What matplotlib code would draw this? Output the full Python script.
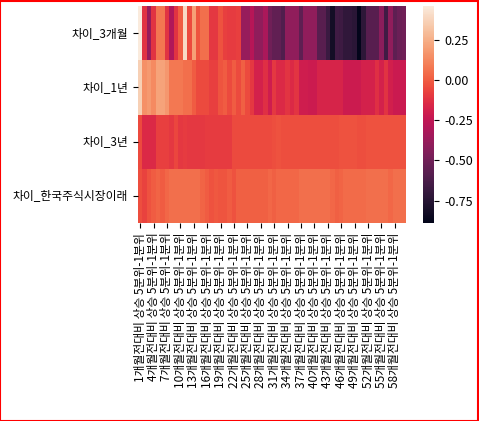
import pandas as pd
import seaborn as sns
import matplotlib.pyplot as plt
from matplotlib.patches import Rectangle

months = list(range(1, 61))
col_names = [f"{m}개월전대비 상승 5분위-1분위" for m in months]
row_names = ["차이_3개월", "차이_1년", "차이_3년", "차이_한국주식시장이래"]
cbar_ticks = [-0.75, -0.50, -0.25, 0.00, 0.25]

diff_3m = [0.46, -0.12, -0.38, -0.12, 0.07, 0.07, -0.12, -0.30, -0.12, 0.00,
           0.40, -0.05, 0.20, -0.02, 0.05, 0.05, -0.10, -0.10, -0.03, -0.08,
           -0.09, -0.09, -0.08, -0.38, -0.38, -0.28, -0.40, -0.40, -0.32, -0.50,
           -0.55, -0.55, -0.60, -0.40, -0.40, -0.40, -0.56, -0.40, -0.40, -0.40,
           -0.58, -0.58, -0.68, -0.82, -0.66, -0.67, -0.72, -0.72, -0.74, -0.89,
           -0.73, -0.58, -0.58, -0.58, -0.42, -0.66, -0.40, -0.56, -0.52, -0.50]
diff_1y = [0.36, 0.15, 0.18, 0.13, 0.21, 0.21, 0.17, 0.08, 0.08, 0.08,
           0.05, 0.05, 0.00, -0.05, -0.05, -0.05, -0.08, -0.08, -0.02, 0.00,
           -0.05, 0.00, -0.05, 0.01, -0.05, -0.10, -0.18, -0.18, -0.13, -0.20,
           -0.10, -0.15, -0.15, -0.11, -0.15, -0.11, -0.20, -0.20, -0.21, -0.21,
           -0.17, -0.17, -0.17, -0.17, -0.17, -0.17, -0.21, -0.21, -0.21, -0.21,
           -0.18, -0.18, -0.18, -0.13, -0.18, -0.12, -0.19, -0.22, -0.22, -0.22]
diff_3y = [-0.05, -0.15, -0.15, -0.15, -0.08, -0.08, -0.08, -0.10, -0.06, -0.10,
           -0.09, -0.10, -0.10, -0.10, -0.10, -0.09, -0.09, -0.09, -0.09, -0.09,
           -0.09, -0.05, -0.05, -0.05, -0.05, -0.05, -0.05, -0.05, -0.05, -0.05,
           -0.04, -0.03, -0.04, -0.04, -0.04, -0.04, -0.04, -0.04, -0.04, -0.04,
           -0.04, -0.04, -0.04, -0.04, -0.04, -0.03, -0.03, -0.03, -0.03, -0.04,
           -0.04, -0.03, -0.03, -0.03, -0.03, -0.03, -0.03, -0.03, -0.03, -0.03]
diff_all = [-0.04, -0.07, -0.03, 0.00, 0.02, 0.00, 0.03, 0.05, 0.05, 0.05,
            0.05, 0.05, 0.05, 0.05, 0.02, 0.00, -0.03, -0.01, -0.02, -0.02,
            0.00, -0.03, 0.01, 0.01, 0.01, 0.01, 0.01, 0.01, 0.01, 0.03,
            0.01, 0.03, 0.03, 0.03, 0.03, 0.03, 0.05, 0.05, 0.05, 0.05,
            0.05, 0.05, 0.05, 0.03, 0.01, 0.02, 0.04, 0.04, 0.04, 0.04,
            0.04, 0.05, 0.05, 0.05, 0.05, 0.05, 0.03, 0.05, 0.05, 0.05]

plt.rcParams["font.family"] = ["Noto Sans CJK KR", "DejaVu Sans"]
plt.rcParams["axes.unicode_minus"] = False

df = pd.DataFrame([diff_3m, diff_1y, diff_3y, diff_all], index=row_names, columns=col_names)

fig = plt.figure(figsize=(4.79, 4.21), dpi=100)
ax = fig.add_axes([0.288, 0.4703, 0.5596, 0.5154])
cax = fig.add_axes([0.8837, 0.4703, 0.023, 0.5154])

sns.heatmap(df, ax=ax, cbar_ax=cax, xticklabels=3,
            cbar_kws={"ticks": cbar_ticks, "format": "%.2f"})
ax.tick_params(axis="both", labelsize=8.5)
cax.tick_params(labelsize=9)

# red frame round the whole figure
fig.patches.append(Rectangle((0.001, 0.001), 0.997, 0.997, transform=fig.transFigure,
                             fill=False, edgecolor="red", linewidth=1.5))

fig.savefig("out.png", dpi=100)
